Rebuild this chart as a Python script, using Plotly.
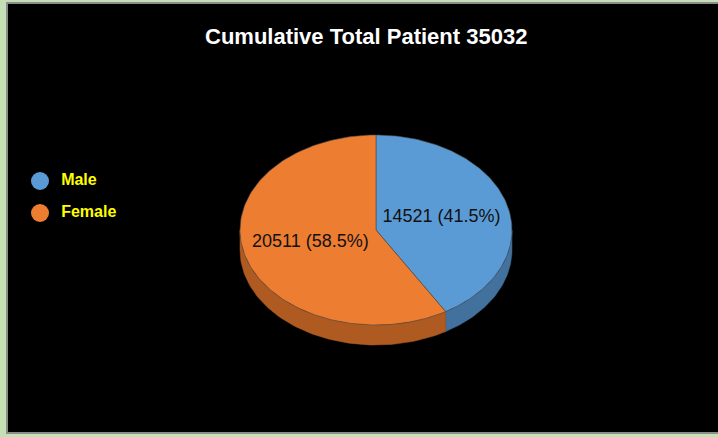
import numpy as np
import plotly.graph_objects as go

# ---- data ----
title_text = "Cumulative Total Patient 35032"
categories = ["Male", "Female"]
values = [14521, 20511]
top_colors = ["#5b9bd5", "#ed7d31"]
side_colors = ["#41719c", "#ae5a21"]

# ---- geometry of the tilted pie (pixel space) ----
W, H = 718, 437
cx, cy, rx, ry, depth = 376, 230, 136, 95, 20


def pt(theta, dy=0.0):
    t = np.radians(theta)
    return cx + rx * np.sin(t), cy - ry * np.cos(t) + dy


total = sum(values)
fracs = [v / total for v in values]

fig = go.Figure()

# side walls
start = 0.0
angles = []
for f in fracs:
    a0, a1 = start, start + 360 * f
    angles.append((a0, a1))
    start = a1

for (a0, a1), col in zip(angles, side_colors):
    lo, hi = max(a0, 90), min(a1, 270)
    if hi > lo:
        th = np.linspace(lo, hi, 80)
        xt, yt = pt(th)
        xb, yb = pt(th[::-1], depth)
        xs = np.concatenate([xt, xb, xt[:1]])
        ys = np.concatenate([yt, yb, yt[:1]])
        fig.add_trace(go.Scatter(x=xs, y=ys, mode="lines", fill="toself",
                                 fillcolor=col, line=dict(color=col, width=0.5),
                                 hoverinfo="skip", showlegend=False))

# top faces
for (a0, a1), col in zip(angles, top_colors):
    th = np.linspace(a0, a1, 160)
    xa, ya = pt(th)
    xs = np.concatenate([[cx], xa, [cx]])
    ys = np.concatenate([[cy], ya, [cy]])
    fig.add_trace(go.Scatter(x=xs, y=ys, mode="lines", fill="toself",
                             fillcolor=col, line=dict(color="#4a4a4a", width=0.6),
                             hoverinfo="skip", showlegend=False))

# data labels
lx, ly, lt = [], [], []
for (a0, a1), v, f in zip(angles, values, fracs):
    mid = (a0 + a1) / 2
    t = np.radians(mid)
    lx.append(cx + 0.5 * rx * np.sin(t))
    ly.append(cy - 0.5 * ry * np.cos(t))
    lt.append(f"{v} ({f*100:.1f}%)")
fig.add_trace(go.Scatter(x=lx, y=ly, mode="text", text=lt,
                         textfont=dict(family="Liberation Sans", size=18, color="#111111"),
                         hoverinfo="skip", showlegend=False))

# legend
fig.add_trace(go.Scatter(x=[40, 40], y=[181, 213], mode="markers+text",
                         marker=dict(size=18, color=top_colors),
                         text=["  " + c for c in categories],
                         textposition="middle right",
                         textfont=dict(family="Liberation Sans", size=16, color="#ffff00",
                                       weight="bold"),
                         hoverinfo="skip", showlegend=False))

fig.update_layout(
    width=W, height=H,
    margin=dict(l=0, r=0, t=0, b=0),
    paper_bgcolor="#c5e0b4",
    plot_bgcolor="rgba(0,0,0,0)",
    xaxis=dict(range=[0, W], visible=False, fixedrange=True),
    yaxis=dict(range=[H, 0], visible=False, fixedrange=True),
    shapes=[dict(type="rect", xref="paper", yref="paper", x0=7 / W, x1=1.01,
                 y0=1 - 433 / H, y1=1 - 3 / H, fillcolor="black",
                 line=dict(color="#8c8c8c", width=2), layer="below")],
    annotations=[dict(text=f"<b>{title_text}</b>", x=366, y=36, xref="x", yref="y",
                      showarrow=False,
                      font=dict(family="Liberation Sans", size=22, color="white"))],
    showlegend=False,
)

fig.write_html("out.html", config={"displayModeBar": False},
               post_script="document.body.style.margin='0';")
